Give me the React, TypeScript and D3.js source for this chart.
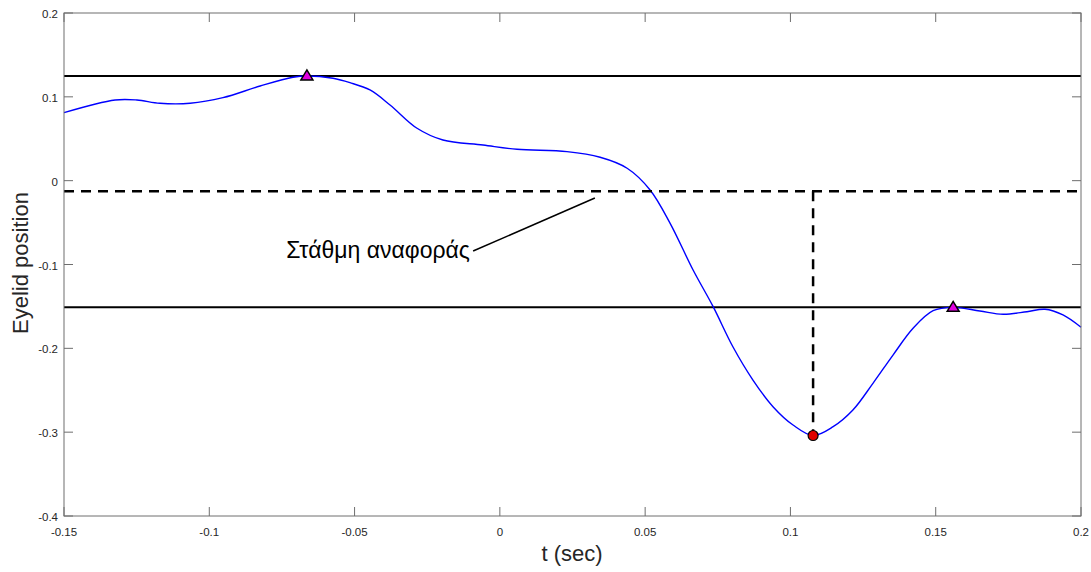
import * as d3 from 'd3'

// eyelid trace
const tSec = [
  -0.15, -0.1324, -0.1249, -0.117, -0.1066, -0.0953, -0.0825, -0.0712, -0.0664, -0.0574,
  -0.0516, -0.0447, -0.0378, -0.0285, -0.0196, -0.0058, 0.0059, 0.0231, 0.0345, 0.0438,
  0.0517, 0.0586, 0.0665, 0.0734, 0.0802, 0.0871, 0.094, 0.1009, 0.1078, 0.1147,
  0.1215, 0.1284, 0.1353, 0.1422, 0.1491, 0.156, 0.1652, 0.1732, 0.1814, 0.1876,
  0.1938, 0.2,
]
const eyelid = [
  0.0811, 0.0962, 0.0962, 0.0923, 0.0923, 0.099, 0.1129, 0.1233, 0.1249, 0.1221,
  0.1169, 0.1082, 0.0903, 0.0625, 0.0485, 0.0425, 0.0374, 0.0346, 0.0279, 0.0148,
  -0.0111, -0.0509, -0.1066, -0.1503, -0.1981, -0.2378, -0.2696, -0.2915, -0.304, -0.2935,
  -0.2736, -0.2417, -0.208, -0.1761, -0.1551, -0.1511, -0.1555, -0.1594, -0.1563, -0.1534,
  -0.1602, -0.1749,
]

const upperLevel = 0.1249
const lowerLevel = -0.1511
const refLevel = -0.0125
const peaks = [
  { t: -0.0664, v: 0.1249 },
  { t: 0.156, v: -0.1511 },
]
const trough = { t: 0.1078, v: -0.304 }

const xTicks = [-0.15, -0.1, -0.05, 0, 0.05, 0.1, 0.15, 0.2]
const yTicks = [-0.4, -0.3, -0.2, -0.1, 0, 0.1, 0.2]
const annotation = 'Στάθμη αναφοράς'
// arrow of the annotation, from near the text to the reference line
const arrowFrom = { t: -0.0092, v: -0.0839 }
const arrowTo = { t: 0.0327, v: -0.0207 }
const textAt = { t: -0.0103, v: -0.0922 }

export default function App() {
  const width = 1091
  const height = 572
  const left = 64, right = 1081, top = 13, bottom = 516

  const x = d3.scaleLinear().domain([-0.15, 0.2]).range([left, right])
  const y = d3.scaleLinear().domain([-0.4, 0.2]).range([bottom, top])

  const line = d3.line<number>()
    .x((_, i) => x(tSec[i]))
    .y(d => y(d))
    .curve(d3.curveCatmullRom.alpha(0.5))

  const axisColor = '#6e6e6e'
  const textColor = '#262626'
  const font = 'Liberation Sans, Arial, sans-serif'
  const tick = 9

  const tri = (cx: number, cy: number) =>
    `M${cx - 6},${cy + 4} L${cx},${cy - 6} L${cx + 6},${cy + 4} Z`

  return (
    <svg width={width} height={height}
      style={{ position: 'absolute', left: 0, top: 0, background: '#fff' }}
      fontFamily={font}>
      {/* reference lines */}
      <line x1={left} x2={right} y1={y(upperLevel)} y2={y(upperLevel)} stroke="#000" strokeWidth={2} />
      <line x1={left} x2={right} y1={y(lowerLevel)} y2={y(lowerLevel)} stroke="#000" strokeWidth={2} />

      <path d={line(eyelid) ?? ''} fill="none" stroke="#0000ff" strokeWidth={1.4} />

      <line x1={left} x2={right} y1={y(refLevel)} y2={y(refLevel)}
        stroke="#000" strokeWidth={2.5} strokeDasharray="10,7" />
      <line x1={x(trough.t)} x2={x(trough.t)} y1={y(refLevel)} y2={y(trough.v)}
        stroke="#000" strokeWidth={2.5} strokeDasharray="10,7" />

      {peaks.map((p, i) => (
        <path key={i} d={tri(x(p.t), y(p.v))} fill="#e000e0" stroke="#000" strokeWidth={1.5} />
      ))}
      <circle cx={x(trough.t)} cy={y(trough.v)} r={5} fill="#e00000" stroke="#000" strokeWidth={1.2} />

      {/* annotation */}
      <line x1={x(arrowFrom.t)} y1={y(arrowFrom.v)} x2={x(arrowTo.t)} y2={y(arrowTo.v)}
        stroke="#000" strokeWidth={1.5} />
      <text x={x(textAt.t)} y={y(textAt.v)} fontSize={23} textAnchor="end" fill="#000">{annotation}</text>

      {/* axes box */}
      <rect x={left} y={top} width={right - left} height={bottom - top} fill="none" stroke={axisColor} strokeWidth={1} />

      {xTicks.map(t => (
        <g key={'x' + t}>
          <line x1={x(t)} x2={x(t)} y1={bottom} y2={bottom - tick} stroke={axisColor} />
          <line x1={x(t)} x2={x(t)} y1={top} y2={top + tick} stroke={axisColor} />
          <text x={x(t)} y={bottom + 20} fontSize={11.5} textAnchor="middle" fill={textColor}>{t}</text>
        </g>
      ))}
      {yTicks.map(t => (
        <g key={'y' + t}>
          <line x1={left} x2={left + tick} y1={y(t)} y2={y(t)} stroke={axisColor} />
          <line x1={right} x2={right - tick} y1={y(t)} y2={y(t)} stroke={axisColor} />
          <text x={left - 6} y={y(t) + 5} fontSize={11.5} textAnchor="end" fill={textColor}>{t}</text>
        </g>
      ))}

      <text x={572} y={561} fontSize={22} textAnchor="middle" fill={textColor}>t (sec)</text>
      <text transform={`translate(28,263) rotate(-90)`} fontSize={22}
        textAnchor="middle" fill={textColor}>Eyelid position</text>
    </svg>
  )
}
